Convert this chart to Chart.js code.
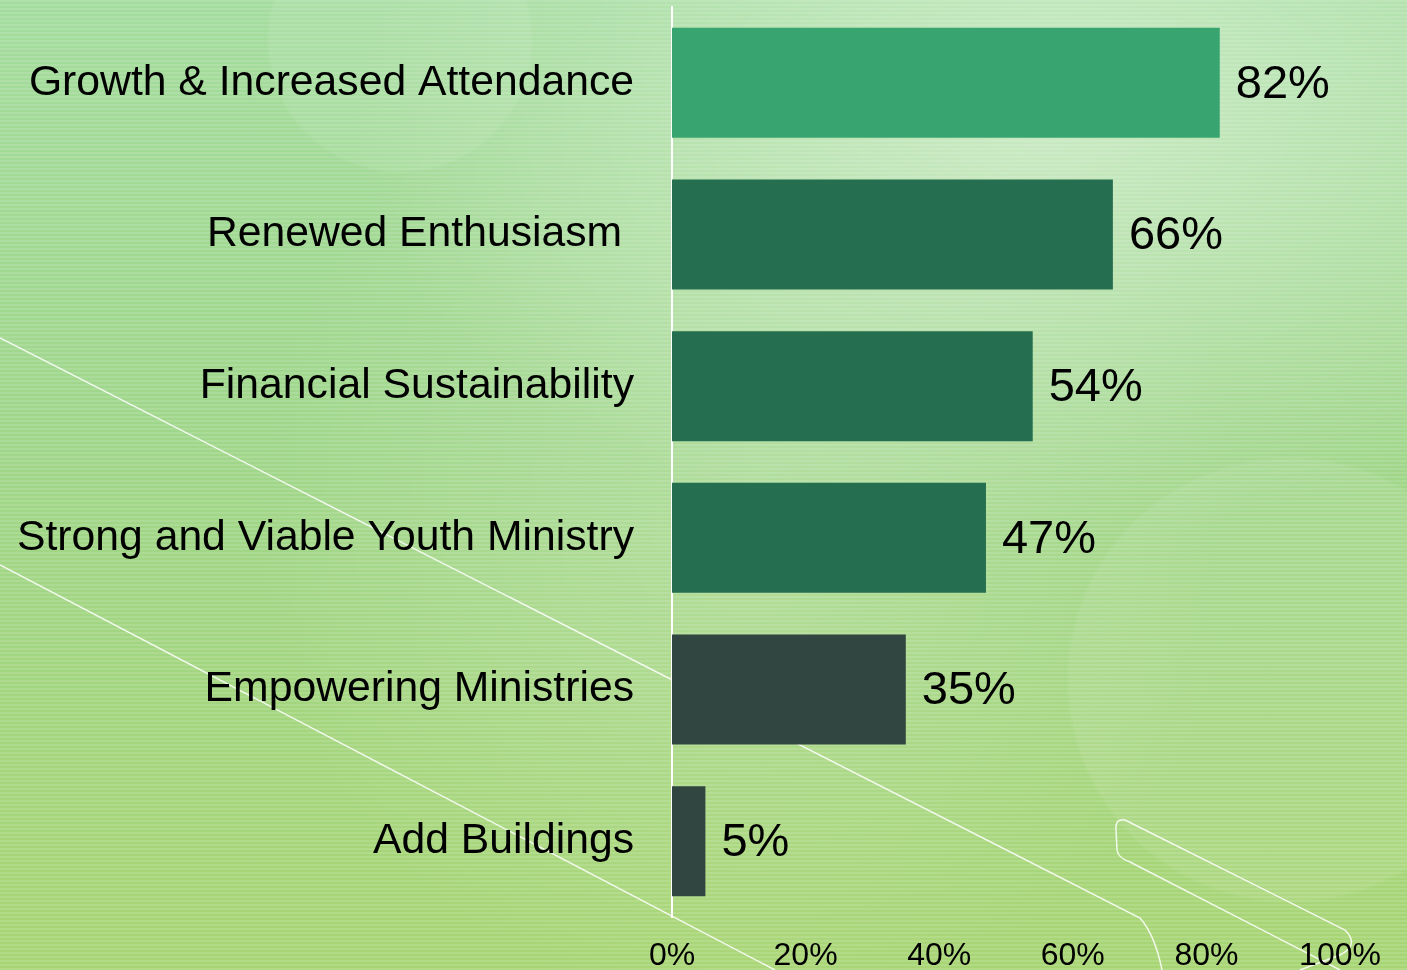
<!DOCTYPE html>
<html>
<head>
<meta charset="utf-8">
<script src="https://cdn.jsdelivr.net/npm/chart.js@4/dist/chart.umd.min.js"></script>
<style>
  html, body { margin: 0; padding: 0; }
  body {
    width: 1407px; height: 970px; overflow: hidden; position: relative;
    background:
      repeating-linear-gradient(to bottom, rgba(255,255,255,0.12) 0 2px, rgba(255,255,255,0) 2px 4px),
      radial-gradient(circle at 1290px 680px, rgba(255,255,255,0.08) 0 220px, rgba(255,255,255,0) 224px),
      radial-gradient(circle at 400px 40px, rgba(255,255,255,0.08) 0 130px, rgba(255,255,255,0) 134px),
      radial-gradient(ellipse 700px 420px at 1050px 120px, rgba(255,255,255,0.42), rgba(255,255,255,0)),
      radial-gradient(ellipse 500px 500px at 750px 520px, rgba(255,255,255,0.18), rgba(255,255,255,0)),
      linear-gradient(to bottom, #a4dc9e 0%, #9fd68a 45%, #a8d574 100%);
  }
  #deco { position: absolute; left: 0; top: 0; }
  #wrap { position: absolute; left: 0; top: 0; width: 1407px; height: 970px; }
</style>
</head>
<body>
<svg id="deco" width="1407" height="970" fill="none" stroke="rgba(255,255,255,0.85)" stroke-width="1.5">
  <path d="M0 338 L1140 918 Q1155 935 1162 970"/>
  <path d="M0 565 L775 970"/>
  <path d="M1125 820 L1345 930 Q1360 945 1340 955 L1300 970"/>
  <path d="M1125 820 Q1115 818 1116 830 L1117 850 Q1118 858 1130 862 L1340 970"/>
</svg>
<div id="wrap"><canvas id="chart-priorities"></canvas></div>
<script>
// data
const categories = ['Growth & Increased Attendance', 'Renewed Enthusiasm ', 'Financial Sustainability',
  'Strong and Viable Youth Ministry', 'Empowering Ministries', 'Add Buildings'];
const percents = [82, 66, 54, 47, 35, 5];
const xTicks = [0, 20, 40, 60, 80, 100];
const barColors = ['#38a46f', '#256e4f', '#256e4f', '#256e4f', '#324641', '#324641'];

// label angka di ujung bar
const valueLabels = {
  id: 'valueLabels',
  afterDatasetsDraw(chart) {
    const ctx = chart.ctx;
    const meta = chart.getDatasetMeta(0);
    ctx.save();
    ctx.font = '47px "Liberation Sans", Arial, sans-serif';
    ctx.fillStyle = '#000';
    ctx.textAlign = 'left';
    ctx.textBaseline = 'middle';
    meta.data.forEach((bar, i) => {
      ctx.fillText(percents[i] + '%', bar.x + 16, bar.y + 2);
    });
    ctx.restore();
  }
};

var ctx = document.getElementById('chart-priorities');
var priorityChart = new Chart(ctx, {
  type: 'bar',
  data: {
    labels: categories,
    datasets: [{
      data: percents,
      backgroundColor: barColors,
      borderWidth: 0,
      categoryPercentage: 1,
      barPercentage: 0.725
    }]
  },
  options: {
    indexAxis: 'y',
    responsive: true,
    maintainAspectRatio: false,
    animation: false,
    layout: { padding: { top: 7, right: 67, bottom: 0, left: 0 } },
    plugins: {
      legend: { display: false },
      tooltip: { enabled: false }
    },
    scales: {
      x: {
        min: 0,
        max: 100,
        afterBuildTicks: (scale) => { scale.ticks = xTicks.map(v => ({ value: v })); },
        grid: { display: false, drawTicks: false },
        border: { display: false },
        ticks: {
          color: '#000',
          padding: 23,
          maxRotation: 0,
          font: { family: '"Liberation Sans", Arial, sans-serif', size: 32, lineHeight: 1 },
          callback: (v) => v + '%'
        },
        afterFit: (scale) => { scale.height = 53; }
      },
      y: {
        grid: { display: false, drawTicks: false },
        border: { color: '#ffffff', width: 2 },
        ticks: {
          color: '#000',
          padding: 38,
          font: { family: '"Liberation Sans", Arial, sans-serif', size: 42.7, lineHeight: 0.2 }
        },
        afterFit: (scale) => {
          scale.width = 672;
          scale.paddingTop = 0;
          scale.paddingBottom = 0;
        }
      }
    }
  },
  plugins: [valueLabels]
});
</script>
</body>
</html>
